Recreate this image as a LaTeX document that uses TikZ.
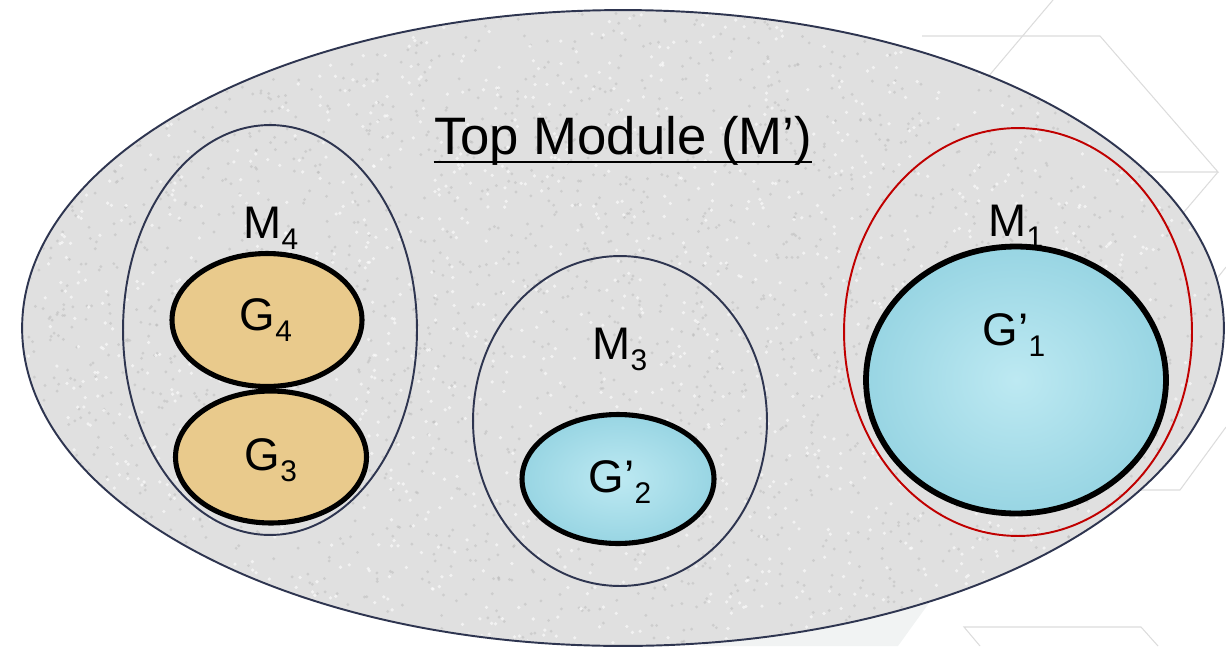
\documentclass[tikz,border=0pt]{standalone}
\usepackage{fontspec}
\setmainfont{Liberation Sans}
\usetikzlibrary{shapes.geometric}
\definecolor{navy}{HTML}{2E3550}
\definecolor{granite}{HTML}{E0E0E0}
\definecolor{speck}{HTML}{B8B8B8}
\definecolor{tan}{HTML}{E9CA8C}
\definecolor{aquain}{HTML}{BDE9F2}
\definecolor{aquaout}{HTML}{98D5E3}
\definecolor{modred}{HTML}{C00000}
\definecolor{hexgray}{HTML}{DCDCDC}
\definecolor{trigray}{HTML}{F1F3F3}
\newcommand{\lab}[2]{#1\raisebox{-6.5pt}{\fontsize{17}{17}\selectfont #2}}
\begin{document}
\begin{tikzpicture}[x=0.02cm,y=-0.02cm,
  oval/.style={ellipse, inner sep=0pt, draw=navy, line width=1.1pt},
  gnode/.style={ellipse, inner sep=0pt, draw=black, line width=2.9pt},
  tannode/.style={gnode, fill=tan},
  aquanode/.style={gnode, shade, inner color=aquain, outer color=aquaout},
  lbl/.style={anchor=base, inner sep=0pt, font=\fontsize{26}{30}\selectfont},
  hexline/.style={draw=hexgray, line width=0.6pt}]
\useasboundingbox (0,0) rectangle (1226,646);
% background decoration
\fill[trigray] (700,646) -- (960,560) -- (898,646) -- cycle;
\draw[hexline] (922,36) -- (1100,36) -- (1218,172) -- (1100,172);
\draw[hexline] (1053,0) -- (960,110);
\draw[hexline] (1218,172) -- (1150,252);
\draw[hexline] (1226,267) -- (1200,300);
\draw[hexline] (1226,427) -- (1180,490) -- (1100,490);
\draw[hexline] (980,646) -- (964,627) -- (1141,627) -- (1158,646);
% top module
\node[ellipse, inner sep=0pt, fill=granite, minimum width=24.04cm, minimum height=12.72cm] (top) at (623,328) {};
\begin{scope}
  \clip (623,328) ellipse [x radius=599, y radius=316];
  \pgfmathsetseed{11}
  \foreach \i in {1,...,2600} {
    \pgfmathsetmacro\xx{22+1202*rnd}
    \pgfmathsetmacro\yy{10+636*rnd}
    \fill[speck, opacity=0.45] (\xx,\yy) circle [radius=1.6];
  }
  \foreach \i in {1,...,1600} {
    \pgfmathsetmacro\xx{22+1202*rnd}
    \pgfmathsetmacro\yy{10+636*rnd}
    \fill[white, opacity=0.6] (\xx,\yy) circle [radius=1.8];
  }
\end{scope}
\node[oval, minimum width=24.04cm, minimum height=12.72cm] (topline) at (623,328) {};
% modules
\node[oval, minimum width=5.88cm, minimum height=8.2cm] (m4) at (270,330) {};
\node[oval, minimum width=5.88cm, minimum height=6.6cm] (m3) at (620,421) {};
\node[oval, draw=modred, minimum width=6.96cm, minimum height=8.16cm] (m1) at (1018,332) {};
% gates
\node[tannode, minimum width=3.8cm, minimum height=2.66cm] (g4) at (267,320) {};
\node[tannode, minimum width=3.82cm, minimum height=2.64cm] (g3) at (271,457) {};
\node[aquanode, minimum width=3.84cm, minimum height=2.58cm] (g2) at (618,479) {};
\node[aquanode, line width=3.3pt, minimum width=6.0cm, minimum height=5.34cm] (g1) at (1016,380) {};
% labels
\node[anchor=base, inner sep=0pt, font=\fontsize{30}{35}\selectfont] (title) at (623,154) {Top Module (M’)};
\draw[line width=1.5pt] ([yshift=-4.5pt]title.base west) -- ([yshift=-4.5pt]title.base east);
\node[lbl] (lm4) at (271,238) {\lab{M}{4}};
\node[lbl] (lm1) at (1016,236) {\lab{M}{1}};
\node[lbl] (lm3) at (620,359) {\lab{M}{3}};
\node[lbl] (lg4) at (266,330) {\lab{G}{4}};
\node[lbl] (lg3) at (271,470) {\lab{G}{3}};
\node[lbl] (lg2) at (620,492) {\lab{G’}{2}};
\node[lbl] (lg1) at (1014,345) {\lab{G’}{1}};
\end{tikzpicture}
\end{document}
